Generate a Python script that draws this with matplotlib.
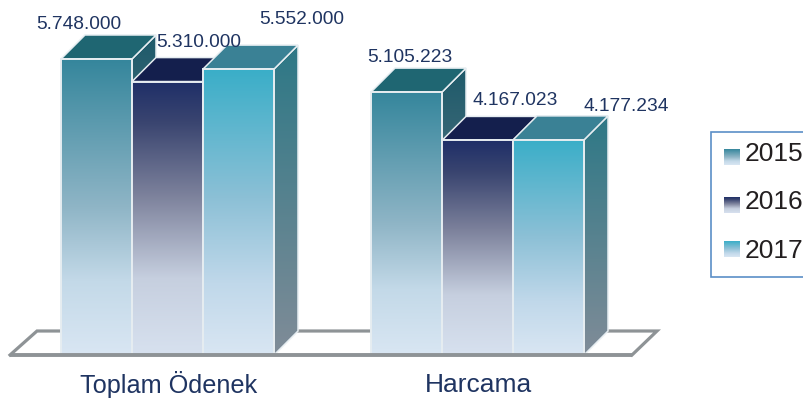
import matplotlib
matplotlib.use('Agg')
import matplotlib.pyplot as plt
from matplotlib.colors import LinearSegmentedColormap
from matplotlib.patches import Polygon, Rectangle
import numpy as np

categories = ['Toplam Ödenek', 'Harcama']
years = ['2015', '2016', '2017']
values_2015 = [5748000, 5105223]
values_2016 = [5310000, 4167023]
values_2017 = [5552000, 4177234]

labels_2015 = ['5.748.000', '5.105.223']
labels_2016 = ['5.310.000', '4.167.023']
labels_2017 = ['5.552.000', '4.177.234']

# layout, in pixels of the 804x401 picture
W, H = 804, 401
BASE = 46
PX_PER_UNIT = 296 / 5748000
GROUP_LEFT = [61, 371]
BAR_W = 71
DEPTH = 24
TEXT_BLUE = '#1f3461'
EDGE = '#e6edf1'
FONT = 'Liberation Sans'
CATEGORY_SIZES = [18.2, 19.0]

front_stops = {
    '2015': [(0, '#35869c'), (0.5, '#8fb5c6'), (0.75, '#c3d9e8'), (1, '#d9e6f3')],
    '2016': [(0, '#1f2f68'), (0.15, '#3a4570'), (0.42, '#7d829c'), (0.72, '#c6cfdf'), (1, '#d7e1ef')],
    '2017': [(0, '#3aaec8'), (0.45, '#8cc0d6'), (0.75, '#c0d8ea'), (1, '#d9e6f3')],
}
side_stops = {
    '2015': [(0, '#1e5a6a'), (1, '#808c98')],
    '2016': [(0, '#1f3a5c'), (1, '#808c98')],
    '2017': [(0, '#2d7886'), (1, '#808c98')],
}
top_colors = {'2015': '#1f6672', '2016': '#141f4d', '2017': '#3a8195'}

# pixel offsets of the value labels from the front top-left corner of their bar
label_offsets = {
    '2015': [(-25, 36), (-4, 36)],
    '2016': [(24, 40), (31, 41)],
    '2017': [(56, 51), (71, 35)],
}

fig = plt.figure(figsize=(W / 100, H / 100), dpi=100)
ax = fig.add_axes([0, 0, 1, 1])
ax.axis('off')
dy = DEPTH / PX_PER_UNIT
ymin = -BASE / PX_PER_UNIT
ymax = (H - BASE) / PX_PER_UNIT


def gradient(stops, box, clip, z):
    cmap = LinearSegmentedColormap.from_list('g', stops)
    im = ax.imshow(np.linspace(0, 1, 256).reshape(-1, 1), cmap=cmap, aspect='auto',
                   extent=box, origin='upper', zorder=z, interpolation='bilinear')
    im.set_clip_path(clip)


def draw_bar(x, val, year, z):
    w = BAR_W
    side = Polygon([(x + w, 0), (x + w + DEPTH, dy), (x + w + DEPTH, val + dy), (x + w, val)],
                   closed=True, fc='none', ec='none', zorder=z)
    ax.add_patch(side)
    gradient(side_stops[year], (x + w, x + w + DEPTH, 0, val + dy), side, z)
    ax.add_patch(Polygon([(x + w, 0), (x + w + DEPTH, dy), (x + w + DEPTH, val + dy), (x + w, val)],
                         closed=True, fc='none', ec=EDGE, lw=1.1, zorder=z + 0.1))
    ax.add_patch(Polygon([(x, val), (x + DEPTH, val + dy), (x + w + DEPTH, val + dy), (x + w, val)],
                         closed=True, fc=top_colors[year], ec=EDGE, lw=1.1, zorder=z + 0.2))
    bar = ax.bar(x, val, width=w, align='edge', color='none', zorder=z + 0.3)[0]
    gradient(front_stops[year], (x, x + w, 0, val), bar, z + 0.3)
    ax.add_patch(Rectangle((x, 0), w, val, fc='none', ec=EDGE, lw=1.4, zorder=z + 0.4))


# floor
floor_x = [10, 37, 657, 632]
ax.plot([floor_x[0], floor_x[1], floor_x[2], floor_x[3]], [0, dy, dy, 0],
        color='#8e9396', lw=2.3, zorder=1, solid_joinstyle='miter')

series = [('2015', values_2015, labels_2015), ('2016', values_2016, labels_2016),
          ('2017', values_2017, labels_2017)]
for g, left in enumerate(GROUP_LEFT):
    for s, (year, vals, labs) in enumerate(series):
        x = left + s * BAR_W
        draw_bar(x, vals[g], year, 2 + s)
        ox, oy = label_offsets[year][g]
        ax.annotate(labs[g], (x, vals[g]), xytext=(ox * 0.72, oy * 0.72 - 1),
                    textcoords='offset points', ha='left', va='center', fontsize=13.8,
                    color=TEXT_BLUE, family=FONT, zorder=10)

ax.plot([floor_x[0], floor_x[3]], [0, 0], color='#8e9396', lw=2.8, zorder=9, solid_capstyle='butt')

for left, name, size in zip(GROUP_LEFT, categories, CATEGORY_SIZES):
    ax.text(left + 1.5 * BAR_W + 1, -30 / PX_PER_UNIT, name, ha='center', va='center',
            fontsize=size, color=TEXT_BLUE, family=FONT, zorder=10)

# legend, cut off by the right edge of the picture
to_y = lambda py: (H - py - BASE) / PX_PER_UNIT
ax.add_patch(Rectangle((711, to_y(277)), 120, to_y(132) - to_y(277), fc='white', ec='#5b8fc7',
                       lw=1.2, zorder=11))
for year, top, mid in zip(years, [149, 197, 241], [154, 202, 251]):
    sw = Rectangle((724, to_y(top + 16)), 16, 16 / PX_PER_UNIT, fc='none', ec='none', zorder=12)
    ax.add_patch(sw)
    gradient(front_stops[year], (724, 740, to_y(top + 16), to_y(top)), sw, 12)
    ax.text(745, to_y(mid), year, ha='left', va='center', fontsize=19, color='#231f20',
            family=FONT, zorder=12)

ax.set_xlim(0, W)
ax.set_ylim(ymin, ymax)
fig.savefig('out.png', dpi=100)
